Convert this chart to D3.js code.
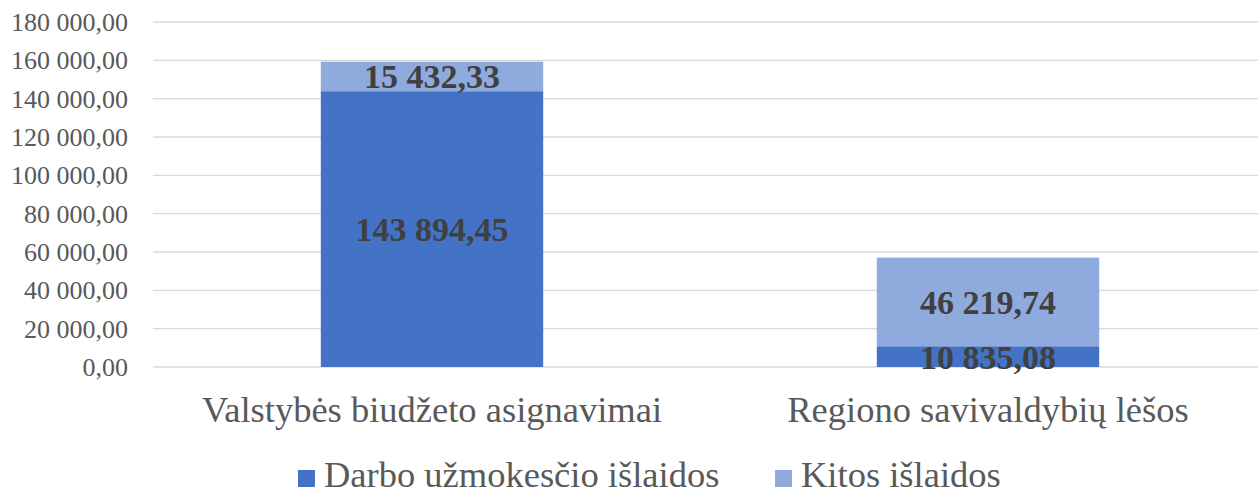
<!DOCTYPE html>
<html>
<head>
<meta charset="utf-8">
<script src="https://cdn.jsdelivr.net/npm/d3@7"></script>
<style>
  body { margin: 0; background: #fff; }
</style>
</head>
<body>
<svg width="1258" height="490"></svg>
<script>
// Chart data
var categories = ['Valstybės biudžeto asignavimai', 'Regiono savivaldybių lėšos'];
var seriesNames = ['Darbo užmokesčio išlaidos', 'Kitos išlaidos'];
var darbo = [143894.45, 10835.08];
var kitos = [15432.33, 46219.74];
var yTicks = [0, 20000, 40000, 60000, 80000, 100000, 120000, 140000, 160000, 180000];
var colors = ['#4472C4', '#8FAADC'];

var FONT = "'Liberation Serif'";
var svg = d3.select('svg');

// Number format like "143 894,45"
var fmt = d3.formatLocale({ decimal: ',', thousands: ' ', grouping: [3], currency: ['', ''] }).format(',.2f');

var x = d3.scaleBand()
    .domain(categories)
    .range([154, 1266])
    .paddingInner(0.6)
    .paddingOuter(0.3);

var y = d3.scaleLinear()
    .domain([0, 180000])
    .range([367, 22]);

// Gridlines
svg.append('g')
    .selectAll('line')
    .data(yTicks)
  .enter().append('line')
    .attr('x1', 153)
    .attr('x2', 1258)
    .attr('y1', d => y(d))
    .attr('y2', d => y(d))
    .attr('stroke', '#d9d9d9')
    .attr('stroke-width', 1.3);

// Y axis labels
svg.append('g')
    .selectAll('text')
    .data(yTicks)
  .enter().append('text')
    .attr('x', 128)
    .attr('y', d => y(d))
    .attr('dy', '0.35em')
    .attr('text-anchor', 'end')
    .attr('fill', '#595959')
    .style('font-family', FONT)
    .style('font-size', '26px')
    .text(d => fmt(d));

// Stack data
var rows = categories.map(function(c, i) {
    return { cat: c, darbo: darbo[i], kitos: kitos[i] };
});
var stack = d3.stack().keys(['darbo', 'kitos'])(rows);

var layers = svg.append('g')
    .selectAll('g')
    .data(stack)
  .enter().append('g')
    .attr('fill', (d, i) => colors[i]);

layers.selectAll('rect')
    .data(d => d)
  .enter().append('rect')
    .attr('x', d => x(d.data.cat))
    .attr('width', x.bandwidth())
    .attr('y', d => y(d[1]))
    .attr('height', d => y(d[0]) - y(d[1]));

// Data labels
layers.selectAll('text')
    .data(d => d)
  .enter().append('text')
    .attr('x', d => x(d.data.cat) + x.bandwidth() / 2)
    .attr('y', d => (y(d[0]) + y(d[1])) / 2)
    .attr('dy', '0.35em')
    .attr('text-anchor', 'middle')
    .attr('fill', '#404040')
    .style('font-family', FONT)
    .style('font-size', '34px')
    .style('font-weight', 'bold')
    .text(d => fmt(d[1] - d[0]));

// Category labels
svg.append('g')
    .selectAll('text')
    .data(categories)
  .enter().append('text')
    .attr('x', d => x(d) + x.bandwidth() / 2)
    .attr('y', 422)
    .attr('text-anchor', 'middle')
    .attr('fill', '#595959')
    .style('font-family', FONT)
    .style('font-size', '36.5px')
    .text(d => d);

// Legend
var legendX = [298, 775];
var legend = svg.append('g')
    .selectAll('g')
    .data(seriesNames)
  .enter().append('g')
    .attr('transform', (d, i) => 'translate(' + legendX[i] + ',0)');

legend.append('rect')
    .attr('x', 0)
    .attr('y', 470)
    .attr('width', 17)
    .attr('height', 17)
    .attr('fill', (d, i) => colors[i]);

legend.append('text')
    .attr('x', 26)
    .attr('y', 487)
    .attr('fill', '#595959')
    .style('font-family', FONT)
    .style('font-size', '36.5px')
    .text(d => d);
</script>
</body>
</html>
